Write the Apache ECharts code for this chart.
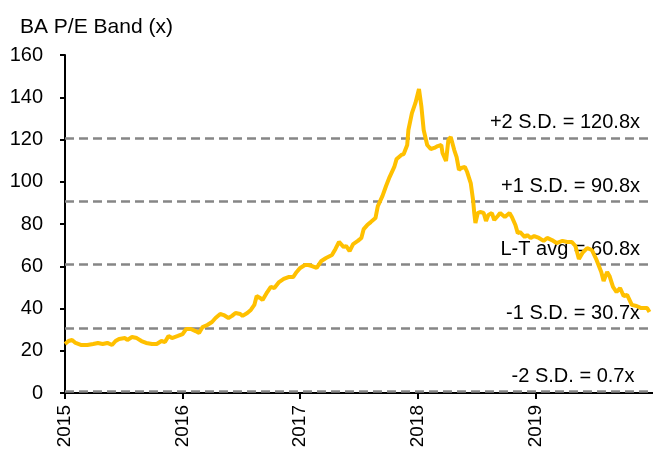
<!DOCTYPE html>
<html>
<head>
<meta charset="utf-8">
<script src="https://cdn.jsdelivr.net/npm/echarts@6/dist/echarts.min.js"></script>
<style>
html,body{margin:0;padding:0;background:#fff;}
#chart{width:653px;height:451px;}
</style>
</head>
<body>
<div id="chart"></div>
<script>
// Decimal-year positions of each observation
const years = [
2015.00,2015.03,2015.06,2015.09,2015.14,2015.19,2015.24,2015.28,2015.32,2015.36,
2015.40,2015.43,2015.46,2015.51,2015.53,2015.57,2015.61,2015.65,2015.69,2015.74,
2015.78,2015.82,2015.85,2015.88,2015.91,2015.96,2016.00,2016.03,2016.07,2016.11,
2016.14,2016.17,2016.21,2016.25,2016.28,2016.32,2016.35,2016.39,2016.42,2016.45,
2016.49,2016.51,2016.55,2016.58,2016.61,2016.63,2016.66,2016.68,2016.72,2016.75,
2016.78,2016.82,2016.86,2016.90,2016.94,2016.97,2017.00,2017.04,2017.07,2017.10,
2017.14,2017.18,2017.22,2017.27,2017.30,2017.33,2017.37,2017.39,2017.42,2017.45,
2017.49,2017.52,2017.54,2017.57,2017.60,2017.64,2017.66,2017.70,2017.73,2017.76,
2017.80,2017.82,2017.86,2017.88,2017.91,2017.92,2017.95,2017.98,2018.01,2018.03,
2018.05,2018.08,2018.11,2018.14,2018.17,2018.20,2018.21,2018.24,2018.26,2018.28,
2018.31,2018.33,2018.35,2018.37,2018.40,2018.42,2018.45,2018.47,2018.48,2018.49,
2018.51,2018.53,2018.56,2018.58,2018.60,2018.63,2018.65,2018.68,2018.70,2018.74,
2018.78,2018.80,2018.83,2018.85,2018.87,2018.91,2018.93,2018.96,2018.99,2019.03,
2019.07,2019.10,2019.14,2019.18,2019.23,2019.27,2019.31,2019.34,2019.37,2019.40,
2019.44,2019.48,2019.52,2019.56,2019.58,2019.61,2019.63,2019.66,2019.69,2019.72,
2019.75,2019.78,2019.82,2019.86,2019.90,2019.95,2019.97
];
// BA forward P/E (x)
const peValues = [
23.2,24.6,25.1,23.7,22.7,22.7,23.2,23.7,23.2,23.7,
22.7,24.6,25.6,26.0,25.1,26.5,26.0,24.6,23.7,23.2,
23.2,24.6,24.1,27.0,26.0,27.0,27.9,30.3,30.3,29.3,
28.4,31.2,32.2,33.6,35.5,37.4,36.9,35.5,36.5,37.9,
37.4,36.5,37.9,39.3,41.7,45.9,45.0,44.0,47.8,50.2,
49.7,52.5,54.0,54.9,54.9,57.3,59.2,60.6,60.6,60.1,
59.2,62.5,63.9,65.3,68.2,71.5,69.1,69.6,67.2,70.5,
72.0,73.4,77.6,79.5,80.9,82.8,88.5,93.3,98.0,102.2,
107.0,110.8,112.7,113.1,117.4,124.5,132.5,137.3,143.9,135.9,
124.5,117.4,115.5,116.0,116.9,117.4,113.6,109.8,119.8,121.2,
115.0,111.7,105.6,106.5,107.0,104.6,99.4,91.4,85.2,80.5,
85.2,85.7,85.2,81.4,84.3,85.2,81.9,83.8,85.2,83.3,
85.2,83.3,79.5,75.7,76.2,73.8,74.8,73.4,74.3,73.4,
72.0,73.4,72.4,71.0,72.0,71.5,71.5,69.6,63.4,66.3,
68.6,67.7,63.0,57.3,53.0,57.3,55.4,50.2,47.8,49.7,
45.9,46.4,41.7,41.2,40.2,40.2,38.3
];
// Band levels and their labels
const bandValues = [120.8, 90.8, 60.8, 30.7, 0.7];
const bandLabels = ['+2 S.D. = 120.8x', '+1 S.D. = 90.8x', 'L-T avg = 60.8x', '-1 S.D. = 30.7x', '-2 S.D. = 0.7x '];
const xTicks = [2015, 2016, 2017, 2018, 2019, 2020];

const seriesData = years.map((y, i) => [y, peValues[i]]);

const chart = echarts.init(document.getElementById('chart'), null, {renderer: 'canvas'});
const FONT = '"Liberation Sans", Arial, sans-serif';
chart.setOption({
  animation: false,
  backgroundColor: '#ffffff',
  textStyle: {fontFamily: FONT},
  title: {
    text: 'BA P/E Band (x)',
    left: 15, top: 12,
    textStyle: {fontFamily: FONT, fontSize: 21, fontWeight: 'normal', color: '#000'}
  },
  grid: {left: 65, right: -3, top: 55, bottom: 58, containLabel: false},
  xAxis: {
    type: 'value',
    min: xTicks[0], max: xTicks[xTicks.length - 1], interval: 1,
    axisLine: {show: true, lineStyle: {color: '#000', width: 2}},
    axisTick: {show: true, length: 6, lineStyle: {color: '#000', width: 2}},
    axisLabel: {
      rotate: 90, margin: 12, fontSize: 19, color: '#000', fontFamily: FONT,
      showMaxLabel: false,
      formatter: v => String(Math.round(v))
    },
    splitLine: {show: false}
  },
  yAxis: {
    type: 'value',
    min: 0, max: 160, interval: 20,
    axisLine: {show: true, lineStyle: {color: '#000', width: 2}},
    axisTick: {show: true, length: 5, lineStyle: {color: '#000', width: 2}},
    axisLabel: {margin: 22, fontSize: 20, color: '#000', fontFamily: FONT},
    splitLine: {show: false}
  },
  series: [{
    type: 'line',
    data: seriesData,
    showSymbol: false,
    smooth: false,
    lineStyle: {color: '#FFC000', width: 4},
    z: 3,
    markLine: {
      silent: true,
      symbol: ['none', 'none'],
      animation: false,
      lineStyle: {color: '#868686', type: [9, 5], width: 2.5},
      label: {
        show: true,
        position: 'insideEndTop',
        distance: [13, 5],
        fontSize: 20,
        color: '#000',
        fontFamily: FONT
      },
      z: 2,
      data: bandValues.map((v, i) => ({yAxis: v, label: {formatter: bandLabels[i]}}))
    }
  }]
});
</script>
</body>
</html>
